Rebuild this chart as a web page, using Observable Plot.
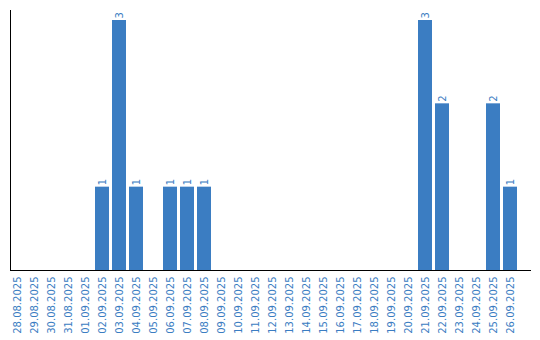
<!DOCTYPE html>
<html>
<head>
<meta charset="utf-8">
<script src="https://cdn.jsdelivr.net/npm/d3@7"></script>
<script src="https://cdn.jsdelivr.net/npm/@observablehq/plot@0.6"></script>
<style>
body { margin: 0; background: #fff; }
</style>
</head>
<body>
<div id="chart"></div>
<script>
const dates = ["28.08.2025","29.08.2025","30.08.2025","31.08.2025","01.09.2025","02.09.2025","03.09.2025","04.09.2025","05.09.2025","06.09.2025","07.09.2025","08.09.2025","09.09.2025","10.09.2025","11.09.2025","12.09.2025","13.09.2025","14.09.2025","15.09.2025","16.09.2025","17.09.2025","18.09.2025","19.09.2025","20.09.2025","21.09.2025","22.09.2025","23.09.2025","24.09.2025","25.09.2025","26.09.2025"];
const counts = [0,0,0,0,0,1,3,1,0,1,1,1,0,0,0,0,0,0,0,0,0,0,0,0,3,2,0,0,2,1];

const data = dates.map((d, i) => ({date: d, count: counts[i]}));
const blue = "#3b7dc2";

// baseline that extends past the last band to the right edge of the plot
function baseline(index, scales, values, dims) {
  const y0 = scales.y(0);
  const line = document.createElementNS("http://www.w3.org/2000/svg", "line");
  line.setAttribute("x1", dims.marginLeft);
  line.setAttribute("x2", dims.width - 9);
  line.setAttribute("y1", y0 + 0.5);
  line.setAttribute("y2", y0 + 0.5);
  line.setAttribute("stroke", "#000");
  return line;
}

const chart = Plot.plot({
  width: 540,
  height: 340,
  marginLeft: 10,
  marginRight: 23,
  marginTop: 10,
  marginBottom: 70,
  style: {fontFamily: "DejaVu Sans", fontSize: "10px", background: "#fff", overflow: "visible"},
  x: {domain: dates, paddingInner: 3/17, paddingOuter: 0, align: 0, label: null},
  y: {domain: [0, 3.12], axis: null},
  marks: [
    Plot.barY(data, {x: "date", y: "count", fill: blue}),
    Plot.text(data.filter(d => d.count > 0), {x: "date", y: "count", text: d => String(d.count), rotate: -90, textAnchor: "start", dy: -2, fill: blue, fontSize: 10}),
    Plot.axisX({tickRotate: -90, tickSize: 0, tickPadding: 6, fill: blue, fontSize: 10, label: null}),
    Plot.frame({anchor: "left", stroke: "#000"}),
    baseline
  ]
});
document.getElementById("chart").appendChild(chart);
</script>
</body>
</html>
